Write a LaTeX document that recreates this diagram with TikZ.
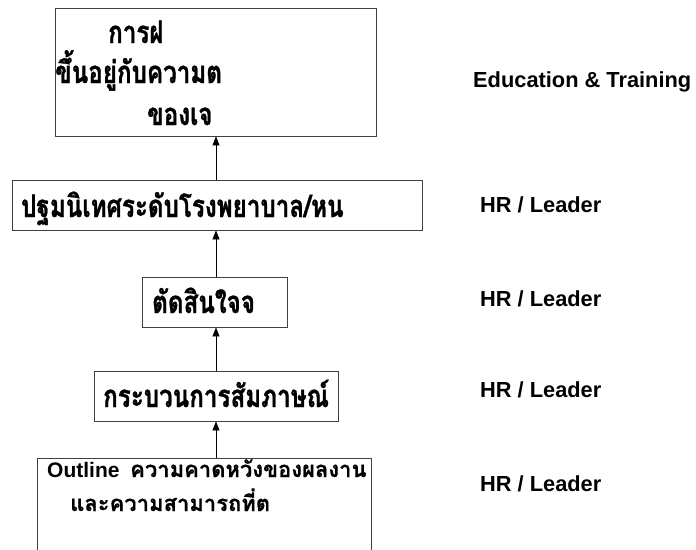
\documentclass[tikz,border=0pt]{standalone}
\usepackage{fontspec}
\setmainfont{Liberation Sans}
\newfontfamily\thaifont[Script=Thai,FakeStretch=0.78,FakeBold=1]{Loma}
\newfontfamily\thaiplain[Script=Thai,FakeBold=0.5]{Loma}
\usetikzlibrary{arrows.meta}
\begin{document}
\begin{tikzpicture}[x=1pt,y=-1pt,
  stagebox/.style={draw=black!75,line width=0.9pt,inner sep=0pt},
  thai/.style={anchor=base west,inner sep=0pt,font=\thaifont\bfseries\fontsize{31}{36}\selectfont},
  thailight/.style={anchor=base west,inner sep=0pt,font=\thaiplain\bfseries\fontsize{22}{26}\selectfont},
  role/.style={anchor=base west,inner sep=0pt,font=\bfseries\fontsize{21.8}{26}\selectfont},
  uparrow/.style={draw=black,line width=0.8pt,-{Triangle[width=7pt,length=9pt]}}]
\useasboundingbox (0,0) rectangle (696,549);
\clip (0,0) rectangle (696,549);

% stage boxes
\node[stagebox,minimum width=321pt,minimum height=128pt] (b1) at (215.5,72) {};
\node[stagebox,minimum width=410pt,minimum height=50pt] (b2) at (217,205) {};
\node[stagebox,minimum width=145pt,minimum height=50pt] (b3) at (214.5,302) {};
\node[stagebox,minimum width=244pt,minimum height=50pt] (b4) at (216,396) {};
\node[stagebox,minimum width=334pt,minimum height=120pt] (b5) at (204,518) {};

% box texts
\node[thai] (t1a) at (108,43) {การฝ};
\node[thai] (t1b) at (55,83) {ขึ้นอยู่กับความต};
\node[thai] (t1c) at (147,125) {ของเจ};
\node[thai] (t2) at (21,217) {ปฐมนิเทศระดับโรงพยาบาล/หน};
\node[thai] (t3) at (152,313) {ตัดสินใจจ};
\node[thai] (t4) at (103,407) {กระบวนการสัมภาษณ์};
\node[role,font=\bfseries\fontsize{21}{25}\selectfont] (t5o) at (47,477) {Outline};
\node[thailight] (t5a) at (130,477) {ความคาดหวังของผลงาน};
\node[thailight] (t5b) at (70,511) {และความสามารถที่ต};

% responsibility labels
\node[role] (r1) at (473,87) {Education \& Training};
\node[role] (r2) at (480,212) {HR / Leader};
\node[role] (r3) at (480,306) {HR / Leader};
\node[role] (r4) at (480,397) {HR / Leader};
\node[role] (r5) at (480,491) {HR / Leader};

% connectors
\draw[uparrow] (b2.north -| 216,0) -- (b1.south -| 216,0);
\draw[uparrow] (b3.north -| 216,0) -- (b2.south -| 216,0);
\draw[uparrow] (b4.north -| 216,0) -- (b3.south -| 216,0);
\draw[uparrow] (b5.north -| 216,0) -- (b4.south -| 216,0);
\end{tikzpicture}
\end{document}
